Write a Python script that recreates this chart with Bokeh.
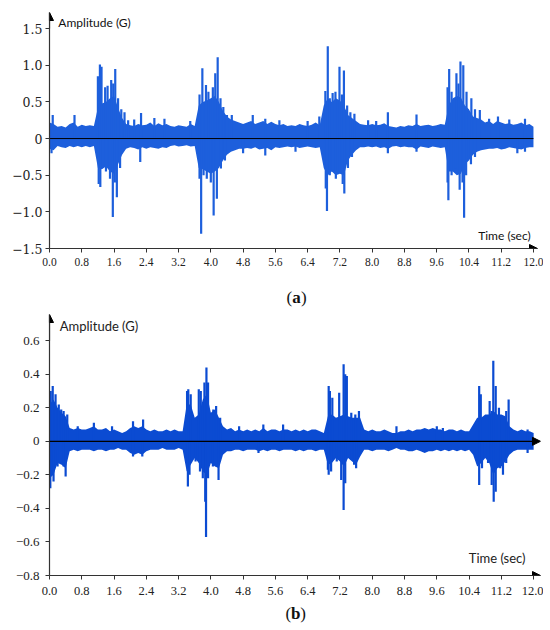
import numpy as np
from bokeh.plotting import figure
from bokeh.layouts import column
from bokeh.models import (Arrow, NormalHead, Label, FixedTicker, CustomJSTickFormatter,
                          Range1d)
from bokeh.core.properties import value
from bokeh.embed import file_html
from bokeh.resources import INLINE

# ---------------- data ----------------
time_grid = [round(i * 0.1, 1) for i in range(121)]   # seconds, 0.0 .. 12.0

# panel (a) envelope (upper / lower), G
upper_a = [0.22, 0.20, 0.16, 0.17, 0.15, 0.20, 0.22, 0.16, 0.19, 0.17,
           0.18, 0.17, 0.42, 0.48, 0.50, 0.55, 0.58, 0.42, 0.28, 0.20,
           0.18, 0.17, 0.20, 0.18, 0.19, 0.22, 0.17, 0.21, 0.18, 0.20,
           0.17, 0.16, 0.18, 0.17, 0.16, 0.20, 0.17, 0.45, 0.50, 0.52,
           0.55, 0.58, 0.50, 0.38, 0.30, 0.26, 0.24, 0.22, 0.20, 0.22,
           0.24, 0.20, 0.22, 0.24, 0.20, 0.23, 0.20, 0.18, 0.20, 0.17,
           0.18, 0.17, 0.20, 0.18, 0.17, 0.19, 0.22, 0.18, 0.45, 0.55,
           0.50, 0.55, 0.52, 0.45, 0.32, 0.28, 0.24, 0.20, 0.19, 0.18,
           0.20, 0.18, 0.19, 0.21, 0.17, 0.16, 0.15, 0.17, 0.16, 0.18,
           0.17, 0.20, 0.17, 0.18, 0.19, 0.17, 0.18, 0.20, 0.19, 0.45,
           0.55, 0.58, 0.56, 0.45, 0.40, 0.30, 0.28, 0.26, 0.22, 0.24,
           0.20, 0.24, 0.22, 0.20, 0.21, 0.19, 0.20, 0.22, 0.18, 0.20,
           0.16]
lower_a = [-0.14, -0.16, -0.10, -0.12, -0.13, -0.10, -0.12, -0.10, -0.12, -0.10,
           -0.12, -0.10, -0.40, -0.42, -0.38, -0.45, -0.48, -0.35, -0.22, -0.14,
           -0.12, -0.13, -0.15, -0.12, -0.14, -0.12, -0.13, -0.14, -0.12, -0.13,
           -0.10, -0.09, -0.11, -0.10, -0.09, -0.11, -0.10, -0.40, -0.42, -0.45,
           -0.48, -0.45, -0.40, -0.30, -0.22, -0.18, -0.16, -0.14, -0.14, -0.13,
           -0.14, -0.12, -0.15, -0.14, -0.13, -0.16, -0.12, -0.13, -0.12, -0.11,
           -0.12, -0.11, -0.13, -0.12, -0.11, -0.12, -0.13, -0.12, -0.40, -0.50,
           -0.45, -0.50, -0.48, -0.50, -0.30, -0.22, -0.16, -0.12, -0.12, -0.11,
           -0.12, -0.11, -0.13, -0.12, -0.14, -0.11, -0.10, -0.12, -0.11, -0.12,
           -0.12, -0.15, -0.11, -0.12, -0.13, -0.11, -0.12, -0.13, -0.12, -0.45,
           -0.45, -0.50, -0.48, -0.35, -0.30, -0.22, -0.18, -0.16, -0.15, -0.14,
           -0.14, -0.13, -0.15, -0.14, -0.12, -0.13, -0.14, -0.15, -0.13, -0.12,
           -0.12]
spike_t_a = [0.08, 0.62, 0.05, 1.95, 2.10, 2.25, 2.27, 2.60, 2.85,
             1.20, 1.25, 1.29, 1.38, 1.44, 1.53, 1.58, 1.63, 1.70, 1.78, 1.86,
             1.22, 1.26, 1.40, 1.50, 1.57, 1.62, 1.67, 1.75,
             3.49, 3.72, 3.79, 3.88, 3.94, 4.05, 4.11, 4.17, 4.24, 4.31, 4.40, 4.52,
             3.72, 3.76, 3.82, 3.90, 4.00, 4.07, 4.15, 4.25, 4.35,
             5.04, 5.35, 5.35, 4.80, 5.70,
             6.69, 6.84, 6.90, 6.95, 7.02, 7.09, 7.19, 7.25, 7.30, 7.38, 7.46, 7.56,
             6.85, 6.88, 6.95, 7.03, 7.10, 7.20, 7.27, 7.31, 7.40, 7.50,
             8.39, 8.39, 7.90, 8.10, 6.40, 6.10,
             9.10, 9.10, 9.87, 9.91, 9.97, 10.09, 10.14, 10.19, 10.26, 10.34, 10.46,
             10.55, 10.67, 10.90,
             9.87, 9.89, 9.97, 10.06, 10.17, 10.24, 10.28, 10.33, 10.45, 10.55,
             11.12, 11.79, 11.79, 11.40, 11.60]
spike_v_a = [0.32, 0.32, -0.20, 0.25, 0.26, -0.32, 0.35, 0.28, 0.27,
             0.85, 1.01, 0.98, 0.70, 0.72, 0.80, 0.75, 0.95, 0.55, 0.40, 0.36,
             -0.62, -0.66, -0.45, -0.55, -1.07, -0.60, -0.80, -0.40,
             0.24, 0.60, 0.96, 0.73, 0.64, 0.70, 0.89, 1.11, 0.55, 0.43, 0.32, 0.32,
             -0.55, -1.30, -0.50, -0.55, -0.60, -1.05, -0.82, -0.41, -0.30,
             0.32, 0.27, -0.23, -0.20, 0.25,
             0.30, 0.65, 1.26, 0.55, 0.62, 0.64, 0.98, 0.60, 0.93, 0.45, 0.36, 0.34,
             -0.68, -0.99, -0.50, -0.45, -0.55, -0.45, -0.62, -0.75, -0.40, -0.25,
             0.36, -0.20, 0.25, 0.24, 0.24, -0.18,
             0.33, -0.18, 0.70, 0.95, 0.64, 0.89, 0.75, 1.05, 1.00, 0.64, 0.55,
             0.40, 0.39, 0.27,
             -0.60, -0.84, -0.50, -0.41, -0.70, -0.60, -1.08, -0.50, -0.35, -0.25,
             0.30, 0.27, -0.18, 0.26, -0.20]

# panel (b) envelope (upper / lower), G
upper_b = [0.22, 0.25, 0.20, 0.17, 0.15, 0.08, 0.07, 0.08, 0.07, 0.07,
           0.08, 0.09, 0.07, 0.07, 0.08, 0.06, 0.07, 0.06, 0.05, 0.06,
           0.08, 0.09, 0.08, 0.09, 0.07, 0.06, 0.07, 0.06, 0.06, 0.07,
           0.06, 0.07, 0.06, 0.06, 0.22, 0.22, 0.14, 0.16, 0.25, 0.28,
           0.17, 0.19, 0.14, 0.09, 0.07, 0.08, 0.06, 0.07, 0.06, 0.07,
           0.06, 0.07, 0.06, 0.08, 0.06, 0.07, 0.07, 0.06, 0.07, 0.07,
           0.06, 0.07, 0.06, 0.07, 0.06, 0.07, 0.07, 0.06, 0.05, 0.15,
           0.16, 0.14, 0.15, 0.16, 0.15, 0.14, 0.14, 0.14, 0.07, 0.06,
           0.07, 0.06, 0.06, 0.07, 0.06, 0.05, 0.05, 0.06, 0.06, 0.07,
           0.06, 0.07, 0.07, 0.08, 0.07, 0.08, 0.07, 0.07, 0.06, 0.07,
           0.07, 0.06, 0.07, 0.06, 0.06, 0.10, 0.14, 0.14, 0.16, 0.16,
           0.18, 0.16, 0.16, 0.15, 0.09, 0.07, 0.06, 0.07, 0.06, 0.06,
           0.05]
lower_b = [-0.22, -0.20, -0.13, -0.14, -0.16, -0.06, -0.05, -0.06, -0.05, -0.05,
           -0.05, -0.06, -0.05, -0.05, -0.06, -0.05, -0.05, -0.04, -0.05, -0.05,
           -0.07, -0.08, -0.07, -0.08, -0.06, -0.05, -0.05, -0.05, -0.04, -0.05,
           -0.05, -0.05, -0.04, -0.05, -0.18, -0.14, -0.10, -0.13, -0.18, -0.20,
           -0.13, -0.15, -0.16, -0.08, -0.06, -0.06, -0.05, -0.05, -0.06, -0.05,
           -0.05, -0.05, -0.06, -0.05, -0.06, -0.05, -0.05, -0.06, -0.05, -0.05,
           -0.05, -0.06, -0.05, -0.06, -0.05, -0.05, -0.06, -0.05, -0.05, -0.14,
           -0.13, -0.10, -0.12, -0.15, -0.10, -0.12, -0.14, -0.09, -0.05, -0.05,
           -0.06, -0.05, -0.05, -0.05, -0.06, -0.05, -0.04, -0.05, -0.05, -0.06,
           -0.06, -0.05, -0.06, -0.07, -0.06, -0.06, -0.05, -0.06, -0.05, -0.06,
           -0.05, -0.06, -0.05, -0.06, -0.05, -0.08, -0.15, -0.13, -0.10, -0.13,
           -0.20, -0.16, -0.15, -0.12, -0.08, -0.06, -0.05, -0.05, -0.05, -0.05,
           -0.05]
spike_t_b = [0.03, 0.08, 0.15, 0.23, 0.29, 0.35, 0.44, 0.02, 0.10, 0.20, 0.40, 0.35,
             1.10, 2.07, 2.32, 2.07, 2.30, 0.70, 1.55,
             3.41, 3.44, 3.50, 3.70, 3.75, 3.84, 3.89, 3.93, 4.06, 4.13, 4.23,
             3.43, 3.47, 3.62, 3.73, 3.80, 3.86, 3.88, 3.93, 4.19, 4.05,
             5.30, 5.79, 5.18, 4.70,
             6.92, 6.95, 7.01, 7.18, 7.29, 7.33, 7.37, 7.48, 7.58, 7.67,
             6.90, 6.92, 6.98, 7.12, 7.23, 7.29, 7.33, 7.48, 7.55, 7.60,
             8.60, 9.60, 9.75,
             10.65, 10.69, 10.91, 10.96, 11.00, 11.06, 11.14, 11.32, 11.38,
             10.65, 10.72, 10.87, 10.96, 11.01, 11.06, 11.17, 11.24, 11.32,
             11.85, 11.85]
spike_v_b = [0.30, 0.33, 0.28, 0.22, 0.19, 0.18, 0.16, -0.28, -0.24, -0.15, -0.21, -0.15,
             0.11, 0.12, 0.13, -0.09, -0.09, 0.09, 0.09,
             0.30, 0.31, 0.28, 0.31, 0.30, 0.35, 0.44, 0.35, 0.19, 0.21, 0.14,
             -0.27, -0.20, -0.12, -0.18, -0.22, -0.36, -0.57, -0.22, -0.23, -0.15,
             0.10, 0.10, -0.07, 0.09,
             0.33, 0.30, 0.26, 0.29, 0.46, 0.40, 0.39, 0.17, 0.16, 0.18,
             -0.17, -0.20, -0.18, -0.12, -0.23, -0.41, -0.25, -0.11, -0.14, -0.16,
             0.09, 0.09, 0.08,
             0.33, 0.28, 0.24, 0.18, 0.48, 0.33, 0.20, 0.18, 0.25,
             -0.26, -0.16, -0.13, -0.26, -0.36, -0.30, -0.16, -0.20, -0.13,
             0.07, -0.07]

x_ticks = [0.0, 0.8, 1.6, 2.4, 3.2, 4.0, 4.8, 5.6, 6.4, 7.2, 8.0, 8.8, 9.6, 10.4, 11.2, 12.0]
y_ticks_a = [-1.5, -1.0, -0.5, 0.0, 0.5, 1.0, 1.5]
y_ticks_b = [-0.8, -0.6, -0.4, -0.2, 0.0, 0.2, 0.4, 0.6]
caption_a = ["(", "a", ")"]
caption_b = ["(", "b", ")"]

COLOR_A = "#1d5fdc"
COLOR_B = "#0b4bd2"
AX = "#333333"

fmt_x = CustomJSTickFormatter(code="return tick.toFixed(1);")
fmt_y = CustomJSTickFormatter(code="""
if (Math.abs(tick) < 1e-9) return '0';
return (tick < 0 ? '\\u2212' : '') + Math.abs(tick).toFixed(1);
""")


def make_panel(xmax, ymin, ymax, fw, fh, bl, bt, bb, yticks, yfont, ysize, xfont, xsize,
               ystand, xstand):
    p = figure(frame_width=fw, frame_height=fh, x_range=Range1d(0, xmax),
               y_range=Range1d(ymin, ymax), output_backend="svg",
               toolbar_location=None, min_border_left=bl, min_border_right=6,
               min_border_top=bt, min_border_bottom=bb)
    p.grid.visible = False
    p.outline_line_color = None
    p.background_fill_color = "white"
    p.border_fill_color = "white"
    for ax in (p.xaxis[0], p.yaxis[0]):
        ax.axis_line_color = AX
        ax.axis_line_width = 1.2
        ax.major_tick_line_color = AX
        ax.major_tick_in = 0
        ax.minor_tick_line_color = None
        ax.major_label_text_color = "#222222"
    p.xaxis.ticker = FixedTicker(ticks=x_ticks)
    p.xaxis.formatter = fmt_x
    p.xaxis.major_tick_out = 4
    p.xaxis.major_label_text_font = xfont
    p.xaxis.major_label_text_font_size = xsize
    p.xaxis.major_label_standoff = xstand
    p.yaxis.ticker = FixedTicker(ticks=yticks)
    p.yaxis.formatter = fmt_y
    p.yaxis.major_tick_out = 4
    p.yaxis.major_label_text_font = yfont
    p.yaxis.major_label_text_font_size = ysize
    p.yaxis.major_label_standoff = ystand
    return p


def caption(parts, height, cx, cy):
    c = figure(width=542, height=height, x_range=Range1d(0, 542), y_range=Range1d(height, 0),
               output_backend="svg", toolbar_location=None, min_border=0)
    c.axis.visible = False
    c.grid.visible = False
    c.outline_line_color = None
    c.text(x=[cx - 5], y=[cy], text=[parts[0]], text_font=value("Liberation Serif"),
           text_font_size="17px", text_align="right", text_baseline="middle",
           text_color="#111111")
    c.text(x=[cx], y=[cy], text=[parts[1]], text_font=value("Liberation Serif"),
           text_font_size="17px", text_font_style="bold", text_align="center",
           text_baseline="middle", text_color="#111111")
    c.text(x=[cx + 5], y=[cy], text=[parts[2]], text_font=value("Liberation Serif"),
           text_font_size="17px", text_align="left", text_baseline="middle",
           text_color="#111111")
    return c


HEAD = dict(size=8, fill_color="black", line_color="black")

# ---------------- panel (a) ----------------
pa = make_panel(12.1, -1.5, 1.72, 488, 236, 49, 12, 24, y_ticks_a,
                "DejaVu Serif", "12.5px", "Liberation Serif", "11.5px", 3, 5)
pa.varea(x=time_grid, y1=lower_a, y2=upper_a, fill_color=COLOR_A, fill_alpha=1.0)
pa.segment(x0=spike_t_a, y0=[0] * len(spike_t_a), x1=spike_t_a, y1=spike_v_a,
           line_color=COLOR_A, line_width=2.2)
pa.line(x=[time_grid[0], time_grid[-1]], y=[0, 0], line_color="black", line_width=1)
pa.add_layout(Arrow(x_start=0, y_start=1.5, x_end=0, y_end=1.72, line_color=AX, line_width=1.2,
                    end=NormalHead(**HEAD)))
pa.add_layout(Arrow(x_start=11.8, y_start=-1.5, x_end=12.1, y_end=-1.5, line_color=AX,
                    line_width=1.2, end=NormalHead(**HEAD)))
pa.add_layout(Label(x=0.22, y=1.59, text="Amplitude (G)", text_font="Lato",
                    text_font_size="12px", text_baseline="middle", text_align="left",
                    text_color="#111111"))
pa.add_layout(Label(x=11.93, y=-1.317, text="Time (sec)", text_font="Lato",
                    text_font_size="12px", text_baseline="middle", text_align="right",
                    text_color="#111111"))
ca = caption(caption_a, 38, 275, 25)

# ---------------- panel (b) ----------------
pb = make_panel(12.17, -0.8, 0.756, 491, 261, 46, 4, 22, y_ticks_b,
                "Liberation Serif", "13px", "Liberation Serif", "12.5px", 6, 7)
pb.varea(x=time_grid, y1=lower_b, y2=upper_b, fill_color=COLOR_B, fill_alpha=1.0)
pb.segment(x0=spike_t_b, y0=[0] * len(spike_t_b), x1=spike_t_b, y1=spike_v_b,
           line_color=COLOR_B, line_width=2.2)
pb.add_layout(Arrow(x_start=0, y_start=0, x_end=12.17, y_end=0, line_color="black",
                    line_width=1.2, end=NormalHead(**HEAD)))
pb.add_layout(Arrow(x_start=0, y_start=0.6, x_end=0, y_end=0.756, line_color=AX, line_width=1.2,
                    end=NormalHead(**HEAD)))
pb.add_layout(Arrow(x_start=11.8, y_start=-0.8, x_end=12.17, y_end=-0.8, line_color=AX,
                    line_width=1.2, end=NormalHead(**HEAD)))
pb.add_layout(Label(x=0.255, y=0.69, text="Amplitude (G)", text_font="Lato",
                    text_font_size="13px", text_baseline="middle", text_align="left",
                    text_color="#222222"))
pb.add_layout(Label(x=11.80, y=-0.693, text="Time (sec)", text_font="Lato",
                    text_font_size="13px", text_baseline="middle", text_align="right",
                    text_color="#222222"))
cb = caption(caption_b, 28, 274, 16)

layout = column(pa, ca, pb, cb, spacing=0)
open("out.html", "w").write(file_html(layout, INLINE))
